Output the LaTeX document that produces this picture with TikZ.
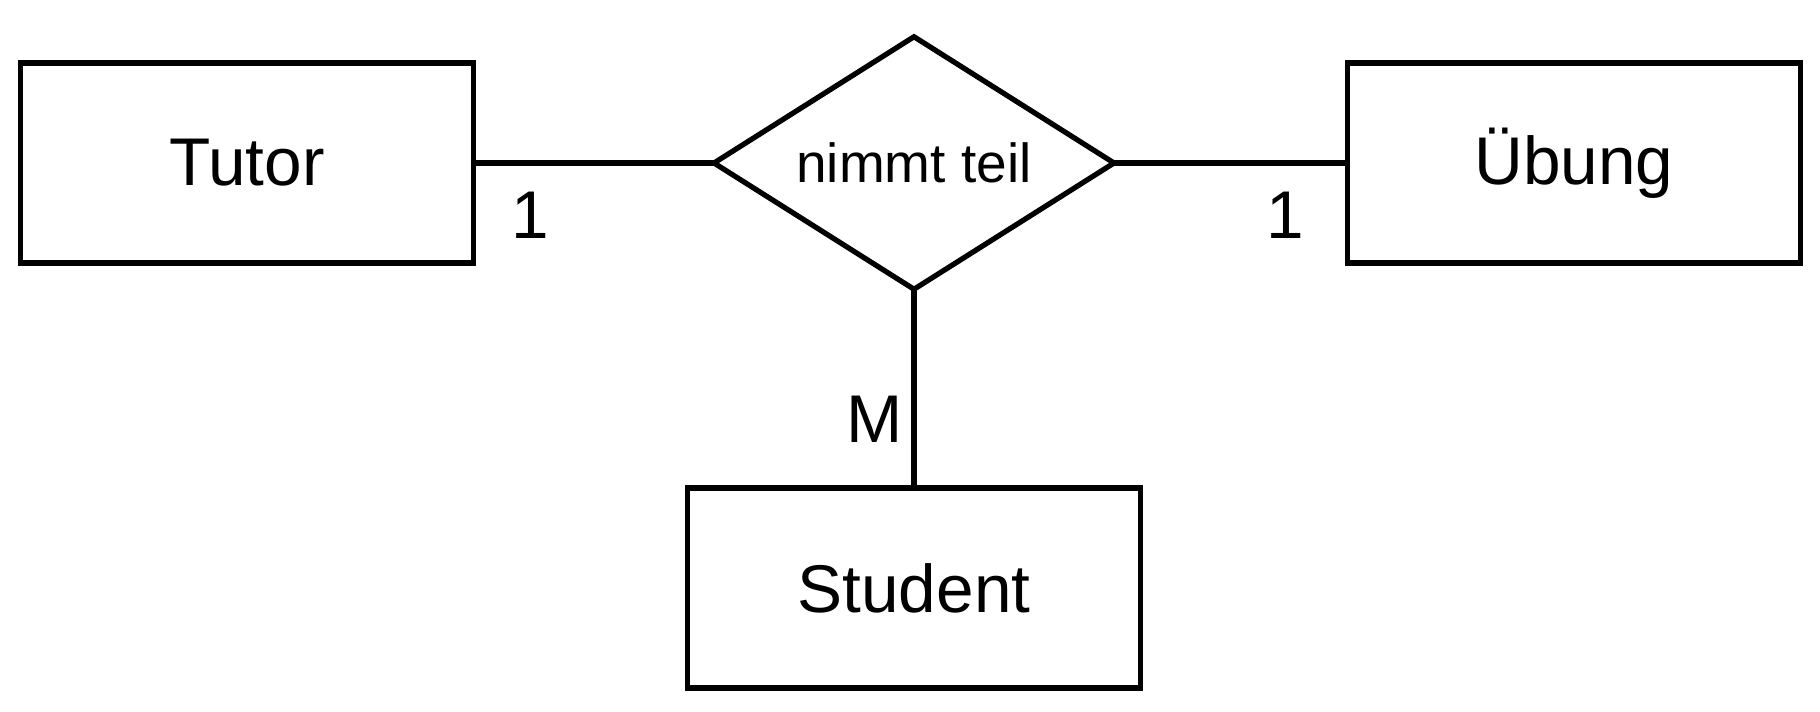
\documentclass[tikz,border=0pt]{standalone}
\usepackage{fontspec}
\setmainfont{Liberation Sans}
\usetikzlibrary{graphs}
\usetikzlibrary{shapes.geometric}

\tikzset{
    entity/.style={draw, line width=2.1pt, minimum width=181pt,
        minimum height=80pt, inner sep=0pt, outer sep=0pt,
        font=\fontsize{27}{30}\selectfont},
    relation/.style={draw, diamond, aspect=1.6, line width=2.1pt,
        minimum width=160pt, minimum height=101pt, inner sep=0pt,
        outer sep=0pt, font=\fontsize{22}{26}\selectfont},
    card/.style={font=\fontsize{27}{30}\selectfont, inner sep=0pt}
}

\begin{document}
\begin{tikzpicture}[x=0.4pt, y=-0.4pt]
        \useasboundingbox (0,0) rectangle (1820,712);
        \node[entity] (tutor) at (247,163) {Tutor}; \node[relation]
        (teil) at (914,163) {nimmt teil}; \node[entity] (uebung) at
        (1574,163) {Übung}; \node[entity] (student) at (914,588)
        {Student};

        \node[card] (c1) at (530,215) {1}; \node[card] (c2) at (1285,215)
        {1}; \node[card] (cm) at (875,419) {M};

        \graph[edges={line width=2.1pt}] {(tutor) -- (teil) -- (uebung);
            (teil) -- (student);};
    \end{tikzpicture}
\end{document}
